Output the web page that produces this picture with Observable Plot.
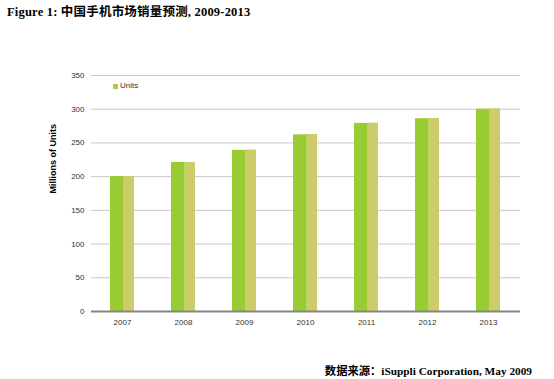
<!DOCTYPE html>
<html>
<head>
<meta charset="utf-8">
<script src="https://cdn.jsdelivr.net/npm/d3@7"></script>
<script src="https://cdn.jsdelivr.net/npm/@observablehq/plot@0.6"></script>
<style>
  body { margin: 0; background: #fff; }
  #wrap { position: relative; width: 554px; height: 379px; overflow: hidden; background: #fff; }
  #title { position: absolute; left: 7px; top: 1px; font: bold 12.5px "Liberation Serif", "Noto Sans CJK SC", serif; color: #000; white-space: nowrap; letter-spacing: 0.2px; }
  #source { position: absolute; right: 22px; top: 362px; font: bold 11.3px "Liberation Serif", "Noto Sans CJK SC", serif; color: #000; white-space: nowrap; }
  #legend { position: absolute; left: 95px; top: 80px; width: 62px; height: 13px; background: #fff; font: 8px "Liberation Sans", Arial, sans-serif; color: #333; }
  #legend .sw { position: absolute; left: 18px; top: 4px; width: 5px; height: 5px; background: #b0c845; }
  #legend .lb { position: absolute; left: 25px; top: 1px; }
  #chart { position: absolute; left: 0; top: 0; }
</style>
</head>
<body>
<div id="wrap">
  <div id="chart"></div>
  <div id="title">Figure 1: 中国手机市场销量预测, 2009-2013</div>
  <div id="legend"><span class="sw"></span><span class="lb">Units</span></div>
  <div id="source">数据来源：iSuppli Corporation, May 2009</div>
</div>
<script>
const years = ["2007", "2008", "2009", "2010", "2011", "2012", "2013"];
const units = [200, 221, 239, 262, 279, 286, 300];
const yTicks = [0, 50, 100, 150, 200, 250, 300, 350];
const yLabel = "Millions of Units";

const data = years.map((y, i) => ({year: y, value: units[i]}));

const chart = Plot.plot({
  width: 554,
  height: 379,
  marginLeft: 91,
  marginRight: 34,
  marginTop: 75,
  marginBottom: 68,
  style: {fontFamily: "'Liberation Sans', Arial, sans-serif", fontSize: "8px", color: "#333", background: "transparent"},
  x: {domain: years, paddingInner: 0.6, paddingOuter: 0.3, label: null},
  y: {domain: [0, 350], label: null},
  marks: [
    Plot.gridY(yTicks, {stroke: "#c8c8c8", strokeOpacity: 1, strokeWidth: 1}),
    Plot.axisY(yTicks, {tickSize: 0, tickPadding: 7, label: null, fill: "#333"}),
    Plot.axisX({tickSize: 0, tickPadding: 8, label: null, fill: "#333"}),
    Plot.barY(data, {x: "year", y: "value", fill: "#99cc33"}),
    Plot.barY(data, {x: "year", y: "value", fill: "#b9d760", insetLeft: 13}),
    Plot.barY(data, {x: "year", y: "value", fill: "#cccc6a", insetLeft: 14}),
    Plot.ruleY([0], {stroke: "#858585", strokeWidth: 2}),
    Plot.text([yLabel], {frameAnchor: "left", rotate: -90, dx: -38, fontWeight: "bold", fontSize: 9, fill: "#000"})
  ]
});
document.getElementById("chart").appendChild(chart);
</script>
</body>
</html>
